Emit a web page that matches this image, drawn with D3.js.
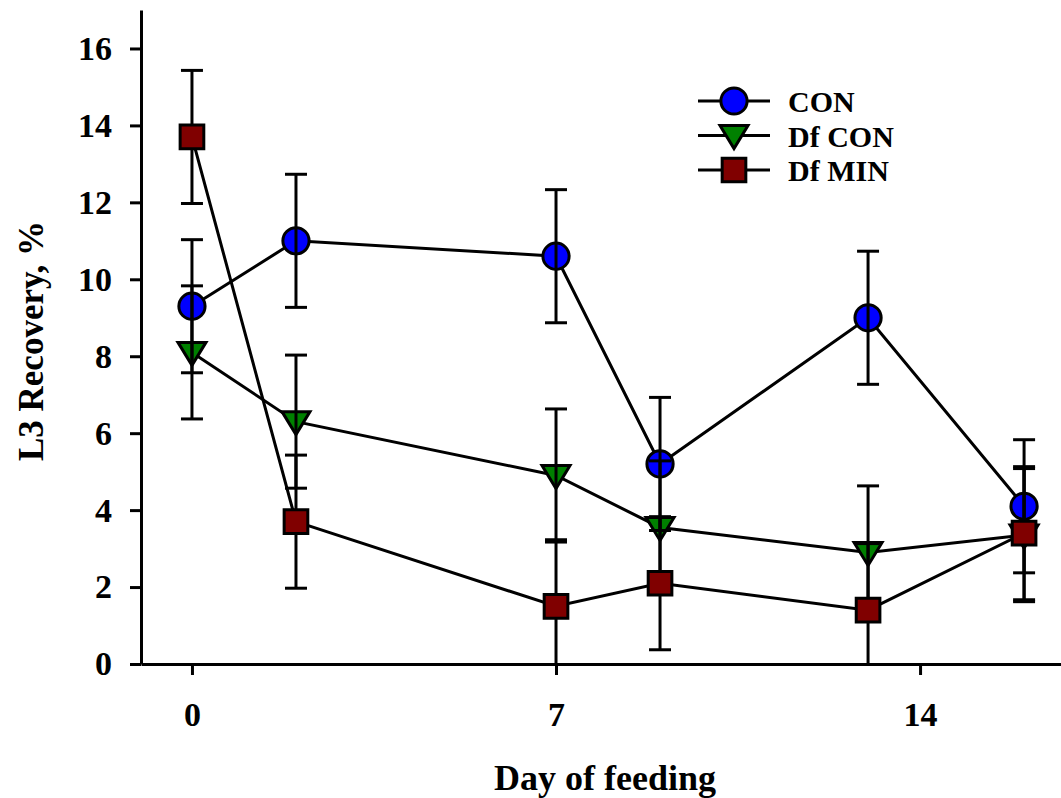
<!DOCTYPE html>
<html>
<head>
<meta charset="utf-8">
<script src="https://cdn.jsdelivr.net/npm/d3@7"></script>
<style>
  body { margin: 0; background: #fff; }
  svg { display: block; font-family: "Liberation Serif", "Times New Roman", serif; font-weight: bold; }
</style>
</head>
<body>
<svg id="chart" width="1061" height="798"></svg>
<script>
// days sampled
const days = [0, 2, 7, 9, 13, 16];

// L3 recovery, %  (mean and error)
const conValues = [9.3, 11.0, 10.6, 5.2, 9.0, 4.1];
const conErr = [1.73, 1.73, 1.73, 1.73, 1.73, 1.73];
const dfConValues = [8.1, 6.3, 4.9, 3.55, 2.9, 3.35];
const dfConErr = [1.73, 1.73, 1.73, 1.73, 1.73, 1.73];
const dfMinValues = [13.7, 3.7, 1.5, 2.1, 1.4, 3.4];
const dfMinErr = [1.73, 1.73, 1.73, 1.73, 1.73, 1.73];

const xTicks = [0, 7, 14];
const yTicks = [0, 2, 4, 6, 8, 10, 12, 14, 16];

const series = [
    { name: "CON", values: conValues, err: conErr, shape: "circle", fill: "#0000ff" },
    { name: "Df CON", values: dfConValues, err: dfConErr, shape: "triangle", fill: "#008000" },
    { name: "Df MIN", values: dfMinValues, err: dfMinErr, shape: "square", fill: "#800000" }
];

const svg = d3.select("#chart");
const plotLeft = 141, plotTop = 10, plotBottom = 664, plotRight = 1061;

const x = d3.scaleLinear().domain([-0.98, 16.71]).range([plotLeft, plotRight]);
const y = d3.scaleLinear().domain([0, 17]).range([plotBottom, plotTop]);

// axes
const yAxis = svg.append("g")
    .attr("transform", "translate(" + plotLeft + ",0)")
    .call(d3.axisLeft(y).tickValues(yTicks).tickSize(11).tickPadding(18).tickSizeOuter(0))
    .attr("font-family", null)
    .attr("font-size", 34);
yAxis.select(".domain").attr("stroke-width", 3);
yAxis.selectAll(".tick line").attr("stroke-width", 3);
yAxis.selectAll(".tick text").attr("fill", "#000");

const xAxis = svg.append("g")
    .attr("transform", "translate(0," + plotBottom + ")")
    .call(d3.axisBottom(x).tickValues(xTicks).tickSize(11).tickPadding(27).tickSizeOuter(0))
    .attr("font-family", null)
    .attr("font-size", 34);
xAxis.select(".domain").attr("stroke-width", 3);
xAxis.selectAll(".tick line").attr("stroke-width", 3);
xAxis.selectAll(".tick text").attr("fill", "#000");

// axis titles
svg.append("text")
    .attr("x", 605).attr("y", 790)
    .attr("text-anchor", "middle")
    .attr("font-size", 36)
    .text("Day of feeding");

svg.append("text")
    .attr("transform", "translate(43,341) rotate(-90)")
    .attr("text-anchor", "middle")
    .attr("font-size", 35)
    .text("L3 Recovery, %");

function symbolPath(shape) {
    if (shape === "circle") return d3.symbol().type(d3.symbolCircle).size(540)();
    if (shape === "square") return d3.symbol().type(d3.symbolSquare).size(560)();
    // downward triangle
    return "M-14,-10L14,-10L0,13Z";
}

function drawMarkers(s) {
    svg.append("g")
        .selectAll("path")
        .data(days.map((d, i) => ({ d: d, v: s.values[i] })))
        .join("path")
        .attr("transform", p => "translate(" + x(p.d) + "," + y(p.v) + ")")
        .attr("d", symbolPath(s.shape))
        .attr("fill", s.fill)
        .attr("stroke", "#000")
        .attr("stroke-width", 3);
}

const line = d3.line().x(p => x(p.d)).y(p => y(p.v));

// connecting lines
series.forEach(s => {
    svg.append("path")
        .datum(days.map((d, i) => ({ d: d, v: s.values[i] })))
        .attr("d", line)
        .attr("fill", "none")
        .attr("stroke", "#000")
        .attr("stroke-width", 3);
});

drawMarkers(series[0]);
drawMarkers(series[1]);

// error bars
const capW = 11;
series.forEach(s => {
    const g = svg.append("g").attr("stroke", "#000").attr("stroke-width", 3);
    days.forEach((d, i) => {
        const hi = s.values[i] + s.err[i];
        const loRaw = s.values[i] - s.err[i];
        const lo = Math.max(0, loRaw);
        const cx = x(d);
        g.append("line").attr("x1", cx).attr("x2", cx).attr("y1", y(hi)).attr("y2", y(lo));
        g.append("line").attr("x1", cx - capW).attr("x2", cx + capW).attr("y1", y(hi)).attr("y2", y(hi));
        if (loRaw > 0) {
            g.append("line").attr("x1", cx - capW).attr("x2", cx + capW).attr("y1", y(lo)).attr("y2", y(lo));
        }
    });
});

drawMarkers(series[2]);

// legend
const legend = svg.append("g").attr("transform", "translate(698,101)");
series.forEach((s, i) => {
    const row = legend.append("g").attr("transform", "translate(0," + i * 34.5 + ")");
    row.append("line")
        .attr("x1", 0).attr("x2", 72)
        .attr("stroke", "#000").attr("stroke-width", 3);
    row.append("path")
        .attr("transform", "translate(36,0)")
        .attr("d", symbolPath(s.shape))
        .attr("fill", s.fill)
        .attr("stroke", "#000")
        .attr("stroke-width", 3);
    row.append("text")
        .attr("x", 90).attr("y", 11)
        .attr("font-size", 30)
        .text(s.name);
});
</script>
</body>
</html>
